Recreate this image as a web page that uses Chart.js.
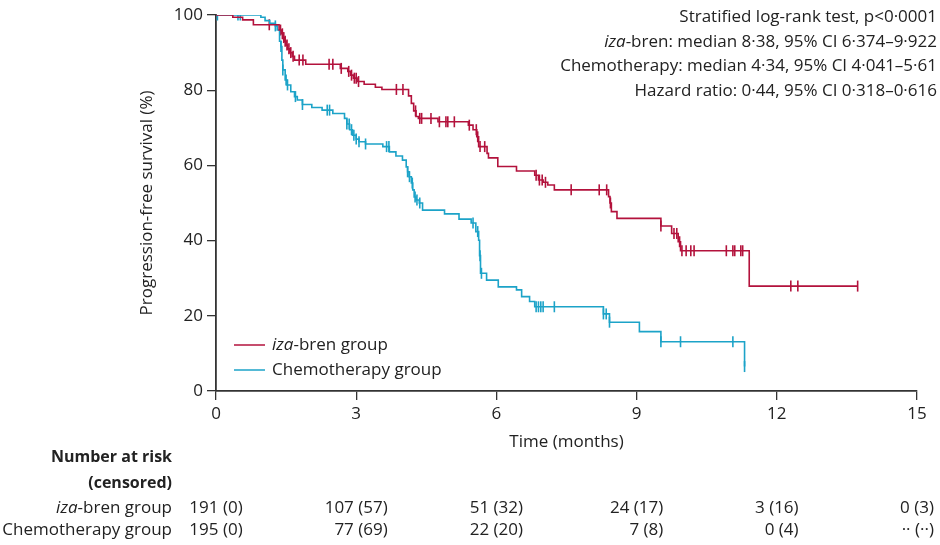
<!DOCTYPE html>
<html>
<head>
<meta charset="utf-8">
<script src="https://cdn.jsdelivr.net/npm/chart.js@4.4.1/dist/chart.umd.min.js"></script>
<style>
  html, body { margin: 0; padding: 0; background: #fff; }
  #wrap { width: 940px; height: 545px; }
</style>
</head>
<body>
<div id="wrap"><canvas id="kmChart"></canvas></div>
<script>
// Kaplan-Meier steps: time (months) of each drop and survival (%) after it
const izaTimes = [0, 0.36, 0.57, 0.80, 1.35, 1.40, 1.44, 1.47, 1.50, 1.53, 1.58, 1.63, 1.68, 1.92,
  2.66, 2.82, 2.88, 2.94, 3.02, 3.17, 3.41, 3.55, 4.12, 4.18, 4.23, 4.28, 4.33, 4.75,
  5.40, 5.50, 5.58, 5.62, 5.80, 5.83, 6.03, 6.43, 6.82, 6.90, 7.00, 7.10, 7.24,
  8.40, 8.43, 8.46, 8.58, 9.52, 9.75, 9.89, 9.94, 11.41]
const izaSurvival = [100, 99.4, 98.7, 97.4, 96.0, 95.0, 94.0, 93.0, 92.0, 91.0, 90.0, 89.0, 88.0, 86.9,
  85.8, 85.0, 84.0, 83.2, 82.3, 81.6, 80.8, 80.2, 78.5, 76.5, 74.5, 73.0, 72.5, 71.6,
  70.7, 69.5, 67.6, 65.0, 63.2, 62.0, 59.7, 58.5, 57.4, 56.1, 55.5, 54.8, 53.5,
  51.7, 50.0, 47.7, 45.9, 43.9, 41.9, 39.7, 37.3, 27.9]
const izaLastFollowUp = 13.73
const izaCensorTimes = [1.14, 1.38, 1.42, 1.45, 1.48, 1.52, 1.56, 1.60, 1.65, 1.78, 1.86, 2.42, 2.50,
  2.68, 2.84, 2.90, 2.96, 3.00, 3.05, 3.86, 4.00, 4.27, 4.36, 4.40, 4.60, 4.78, 4.92, 4.96, 5.10,
  5.42, 5.57, 5.60, 5.65, 5.75, 6.85, 6.92, 6.98, 7.05, 7.60, 8.20, 8.36, 8.44,
  9.52, 9.80, 9.86, 9.92, 9.97, 10.06, 10.16, 10.23, 10.92, 11.06, 11.10, 11.23, 11.27,
  12.30, 12.45, 13.73]

const chemoTimes = [0, 0.96, 1.05, 1.15, 1.27, 1.31, 1.36, 1.39, 1.41, 1.43, 1.48, 1.52, 1.60, 1.68,
  1.74, 1.85, 2.05, 2.27, 2.50, 2.75, 2.80, 2.86, 2.92, 3.00, 3.06, 3.20, 3.57, 3.71, 3.85, 3.99,
  4.07, 4.10, 4.13, 4.18, 4.21, 4.24, 4.28, 4.35, 4.42, 4.89, 5.20, 5.46, 5.56, 5.62, 5.64, 5.66,
  5.79, 6.04, 6.43, 6.54, 6.71, 6.82, 8.29, 8.42, 9.06, 9.52, 11.31]
const chemoSurvival = [100, 99.4, 98.5, 97.8, 97.1, 96.0, 93.0, 91.6, 88.0, 85.4, 82.7, 81.4, 79.6, 78.3,
  77.4, 76.2, 75.4, 74.7, 73.8, 72.5, 71.0, 69.5, 68.0, 67.0, 66.3, 65.7, 65.0, 63.6, 62.5, 61.4,
  59.6, 58.3, 57.0, 55.3, 53.5, 51.6, 50.8, 50.0, 48.1, 47.1, 45.7, 44.7, 42.4, 40.1, 36.0, 31.3,
  29.5, 27.7, 26.9, 25.1, 23.8, 22.4, 20.5, 18.3, 15.8, 13.1, 6.5]
const chemoLastFollowUp = 11.31
const chemoCensorTimes = [0.03, 0.47, 0.52, 1.27, 1.39, 1.43, 1.50, 1.53, 1.70, 1.85, 2.38, 2.43,
  2.80, 2.85, 2.90, 2.95, 3.00, 3.06, 3.20, 3.65, 3.70, 4.10, 4.14, 4.20, 4.26, 4.30, 4.36,
  5.50, 5.60, 5.65, 5.68, 6.85, 6.90, 6.95, 7.00, 7.24, 8.29, 8.35, 8.42, 9.52, 9.94, 11.06, 11.31]

// number at risk table
const riskTimes = [0, 3, 6, 9, 12, 15]
const izaAtRisk = [191, 107, 51, 24, 3, 0]
const izaCensored = [0, 57, 32, 17, 16, 3]
const chemoAtRisk = [195, 77, 22, 7, 0, null]
const chemoCensored = [0, 69, 20, 8, 4, null]

const statLines = [
  [{ text: 'Stratified log-rank test, p<0\u00b70001' }],
  [{ text: 'iza', italic: true }, { text: '-bren: median 8\u00b738, 95% CI 6\u00b7374\u20139\u00b7922' }],
  [{ text: 'Chemotherapy: median 4\u00b734, 95% CI 4\u00b7041\u20135\u00b761' }],
  [{ text: 'Hazard ratio: 0\u00b744, 95% CI 0\u00b7318\u20130\u00b7616' }]
]

const RED = '#b3123c'
const BLUE = '#1ca3c8'
const TEXT = '#222'
const FONT = '"Open Sans", sans-serif'
const SIZE = 17

function curvePoints(times, surv, last) {
    const pts = times.map((t, i) => ({ x: t, y: surv[i] }))
    if (last > times[times.length - 1]) pts.push({ x: last, y: surv[surv.length - 1] })
    return pts
}

function survivalAt(times, surv, t) {
    let s = surv[0]
    for (let i = 0; i < times.length; i++) {
        if (times[i] <= t) s = surv[i]
    }
    return s
}

function censorPoints(censorTimes, times, surv) {
    return censorTimes.map(t => ({ x: t, y: survivalAt(times, surv, t) }))
}

function fmtRisk(n, c) {
    if (n === null) return '\u00b7\u00b7 (\u00b7\u00b7)'
    return `${n} (${c})`
}

function partFont(p) {
    return `${p.italic ? 'italic ' : ''}${p.bold ? 'bold ' : ''}${p.bold ? 16 : SIZE}px ${FONT}`
}

function drawParts(ctx, parts, x, y, align) {
    let total = 0
    parts.forEach(p => {
        ctx.font = partFont(p)
        p.w = ctx.measureText(p.text).width
        total += p.w
    })
    let cx = align === 'right' ? x - total : x
    ctx.textAlign = 'left'
    parts.forEach(p => {
        ctx.font = partFont(p)
        ctx.fillText(p.text, cx, y)
        cx += p.w
    })
}

const extrasPlugin = {
    id: 'extras',
    afterDraw(chart) {
        const ctx = chart.ctx
        const area = chart.chartArea
        const xs = chart.scales.x
        ctx.save()
        ctx.fillStyle = TEXT
        ctx.textBaseline = 'middle'

        // statistics block, top right
        statLines.forEach((line, i) => drawParts(ctx, line, 937, 17 + i * 24.7, 'right'))

        // legend inside the plot
        const legendItems = [
            { color: RED, parts: [{ text: 'iza', italic: true }, { text: '-bren group' }] },
            { color: BLUE, parts: [{ text: 'Chemotherapy group' }] }
        ]
        legendItems.forEach((item, i) => {
            const y = area.bottom - 46 + i * 25
            ctx.strokeStyle = item.color
            ctx.lineWidth = 1.5
            ctx.beginPath()
            ctx.moveTo(area.left + 18, y)
            ctx.lineTo(area.left + 49, y)
            ctx.stroke()
            ctx.fillStyle = TEXT
            drawParts(ctx, item.parts, area.left + 56, y, 'left')
        })

        // number at risk table
        const labelX = 172
        drawParts(ctx, [{ text: 'Number at risk', bold: true }], labelX, 457, 'right')
        drawParts(ctx, [{ text: '(censored)', bold: true }], labelX, 483, 'right')
        drawParts(ctx, [{ text: 'iza', italic: true }, { text: '-bren group' }], labelX, 508, 'right')
        drawParts(ctx, [{ text: 'Chemotherapy group' }], labelX, 530, 'right')

        ctx.font = `${SIZE}px ${FONT}`
        riskTimes.forEach((t, i) => {
            const a = fmtRisk(izaAtRisk[i], izaCensored[i])
            const b = fmtRisk(chemoAtRisk[i], chemoCensored[i])
            const w = Math.max(ctx.measureText(a).width, ctx.measureText(b).width)
            const right = Math.min(xs.getPixelForValue(t) + w / 2, 938)
            ctx.textAlign = 'right'
            ctx.fillText(a, right, 508)
            ctx.fillText(b, right, 530)
        })
        ctx.restore()
    }
}

function drawChart() {
    const tickFont = { family: FONT, size: SIZE }
    new Chart('kmChart', {
        type: 'line',
        data: {
            datasets: [
                {
                    label: 'iza-bren group',
                    data: curvePoints(izaTimes, izaSurvival, izaLastFollowUp),
                    borderColor: RED,
                    borderWidth: 1.6,
                    stepped: true,
                    pointRadius: 0
                },
                {
                    label: 'Chemotherapy group',
                    data: curvePoints(chemoTimes, chemoSurvival, chemoLastFollowUp),
                    borderColor: BLUE,
                    borderWidth: 1.6,
                    stepped: true,
                    pointRadius: 0
                },
                {
                    label: 'iza-bren censored',
                    data: censorPoints(izaCensorTimes, izaTimes, izaSurvival),
                    showLine: false,
                    pointStyle: 'line',
                    rotation: 90,
                    pointRadius: 5.5,
                    borderColor: RED,
                    borderWidth: 1.6
                },
                {
                    label: 'Chemotherapy censored',
                    data: censorPoints(chemoCensorTimes, chemoTimes, chemoSurvival),
                    showLine: false,
                    pointStyle: 'line',
                    rotation: 90,
                    pointRadius: 5.5,
                    borderColor: BLUE,
                    borderWidth: 1.6
                }
            ]
        },
        options: {
            responsive: true,
            maintainAspectRatio: false,
            animation: false,
            layout: { padding: { top: 15, right: 23, left: 0, bottom: 0 } },
            plugins: {
                legend: { display: false },
                tooltip: { enabled: false }
            },
            scales: {
                x: {
                    type: 'linear',
                    min: 0,
                    max: 15,
                    ticks: { stepSize: 3, font: tickFont, color: TEXT, padding: 4 },
                    grid: { display: true, drawOnChartArea: false, tickLength: 9, color: '#333', lineWidth: 1.3 },
                    border: { color: '#333', width: 1.8 },
                    title: { display: true, text: 'Time (months)', font: tickFont, color: TEXT, padding: { top: 0, bottom: 93 } },
                    afterFit(scale) { scale.height = 154 }
                },
                y: {
                    min: 0,
                    max: 100,
                    ticks: { stepSize: 20, font: tickFont, color: TEXT, padding: 4 },
                    grid: { display: true, drawOnChartArea: false, tickLength: 9, color: '#333', lineWidth: 1.3 },
                    border: { color: '#333', width: 1.8 },
                    title: { display: true, text: 'Progression-free survival (%)', font: tickFont, color: TEXT, padding: { top: 137, bottom: 0 } },
                    afterFit(scale) { scale.width = 216 }
                }
            }
        },
        plugins: [extrasPlugin]
    })
}

drawChart()
</script>
</body>
</html>
